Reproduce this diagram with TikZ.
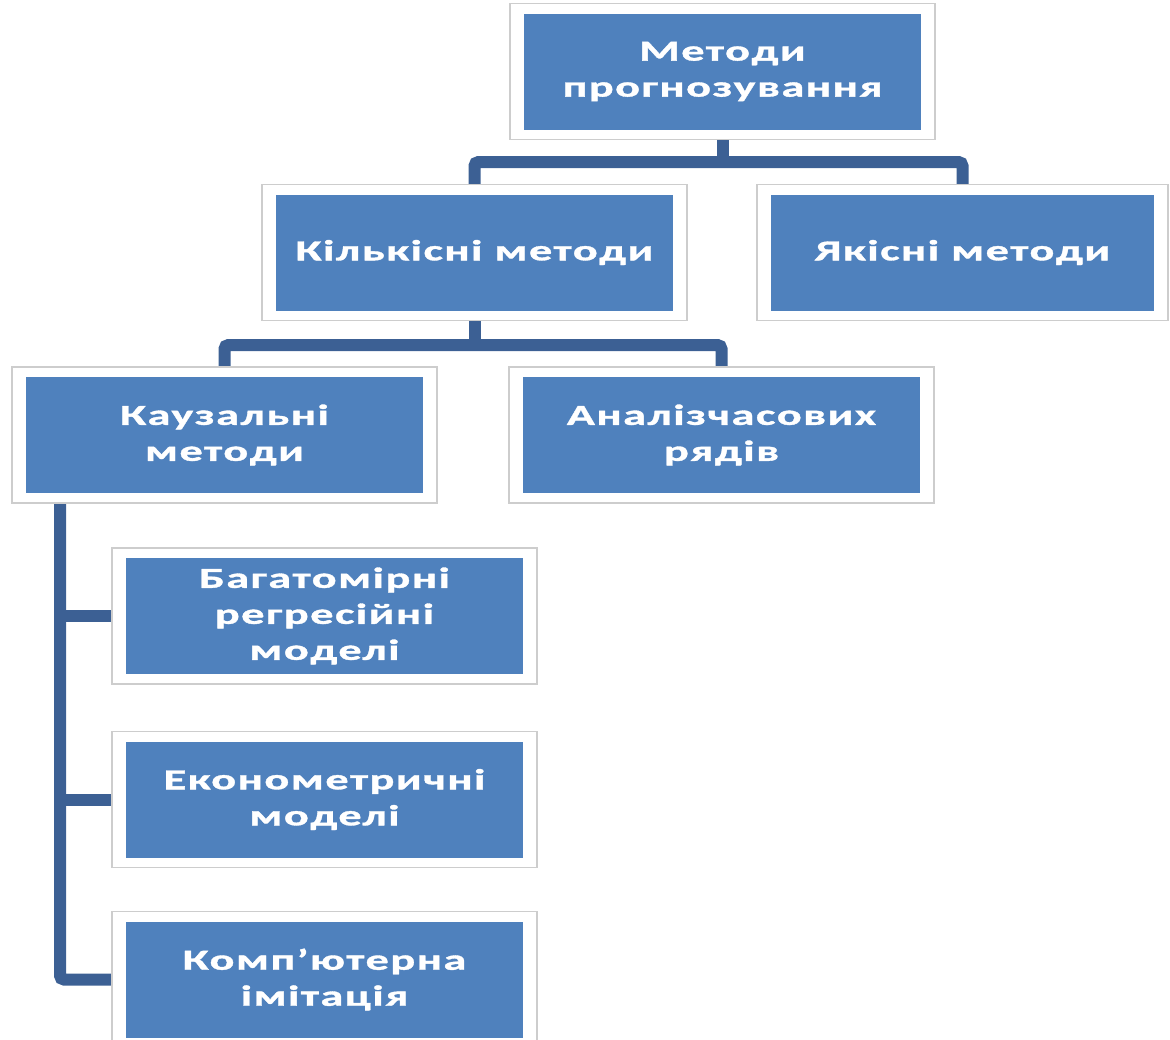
\documentclass[tikz,border=0pt]{standalone}
\usepackage{fontspec}
\newfontfamily\boxfont[FakeStretch=1.6,LetterSpace=5,FakeBold=1.2]{Carlito}
\usetikzlibrary{backgrounds}
\definecolor{boxblue}{RGB}{79,129,189}
\definecolor{linkblue}{RGB}{60,96,148}
\definecolor{framegray}{RGB}{205,205,205}
\tikzset{
  method/.style={rectangle, fill=white, draw=framegray, line width=1.2pt,
    minimum width=425pt, minimum height=136pt, inner sep=0pt,
    text=white, align=center, font=\boxfont\bfseries\fontsize{29}{36}\selectfont,
    path picture={\fill[boxblue] ([shift={(14pt,-10pt)}]path picture bounding box.north west)
      rectangle ([shift={(-14pt,10pt)}]path picture bounding box.south east);}},
  link/.style={draw=linkblue, line width=12pt, rounded corners=4pt}
}
\newcommand{\Method}[3][]{\node[method, #1] (#2) {#3};}

\begin{document}
\begin{tikzpicture}[x=1pt, y=-1pt]
\useasboundingbox (0,0) rectangle (1170,1039);
\Method[at={(722.5,71.5)}]{M}{Методи\\прогнозування}
	\Method[at={(474.5,252.5)}]{K}{Кількісні методи}
	\Method[at={(962.5,252.5)}, minimum width=411pt]{Y}{Якісні методи}
	\Method[at={(224.5,435)}]{C}{Каузальні\\методи}
	\Method[at={(721.5,435)}]{A}{Аналізчасових\\рядів}
	\Method[at={(324.5,616)}]{B}{Багатомірні\\регресійні\\моделі}
	\Method[at={(324.5,799.5)}]{E}{Економетричні\\моделі}
	\Method[at={(324.5,979.5)}]{S}{Комп’ютерна\\імітація}

\begin{scope}[on background layer]
	\coordinate (m1) at (722.5,162);
	\coordinate (m2) at (474.5,345);
	\coordinate (m3) at (60,502);
	\draw[link] (M.south) -- (m1);
	\draw[link] (K.north) |- (m1) -| (Y.north);
	\draw[link] (K.south) -- (m2);
	\draw[link] (C.north) |- (m2) -| (A.north);
	\draw[link] (m3) |- (S.west);
	\draw[link, sharp corners] (m3 |- B.west) -- (B.west);
	\draw[link, sharp corners] (m3 |- E.west) -- (E.west);
\end{scope}

\end{tikzpicture}
\end{document}
